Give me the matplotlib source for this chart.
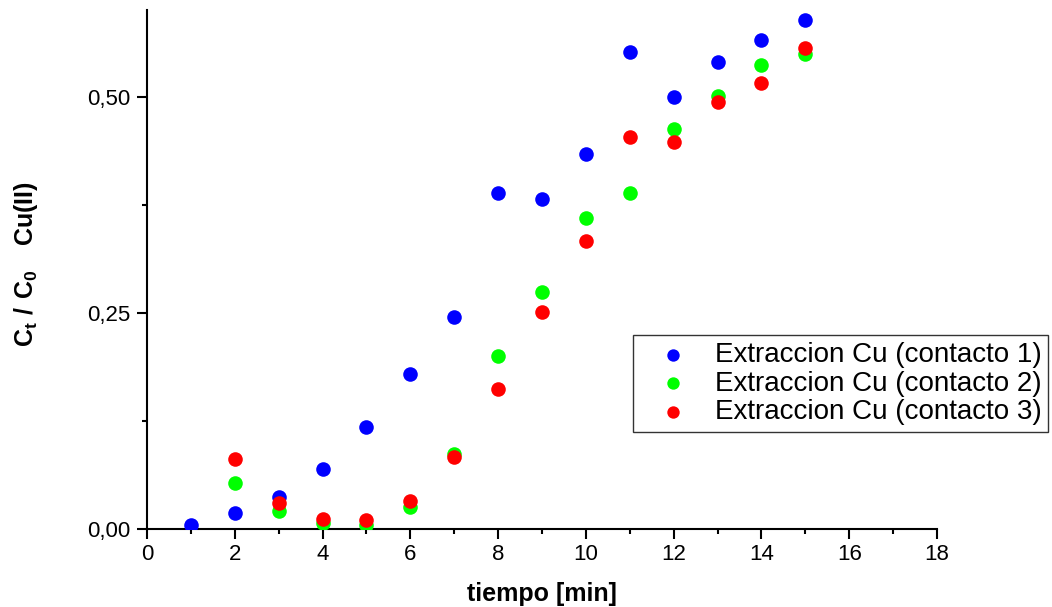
import matplotlib.pyplot as plt
import numpy as np
from matplotlib.ticker import MultipleLocator, FuncFormatter

plt.rcParams['font.family'] = ['Liberation Sans', 'DejaVu Sans']
plt.rcParams['mathtext.fontset'] = 'custom'
plt.rcParams['mathtext.rm'] = 'Liberation Sans'
plt.rcParams['mathtext.bf'] = 'Liberation Sans:bold'

# data
t1 = [1, 2, 3, 4, 5, 6, 7, 8, 9, 10, 11, 12, 13, 14, 15]
c1 = [0.005, 0.018, 0.037, 0.069, 0.118, 0.179, 0.245, 0.388, 0.382,
      0.434, 0.551, 0.500, 0.540, 0.565, 0.589]

t2 = [2, 3, 4, 5, 6, 7, 8, 9, 10, 11, 12, 13, 14, 15]
c2 = [0.053, 0.021, 0.007, 0.005, 0.026, 0.087, 0.200, 0.274, 0.359,
      0.388, 0.463, 0.501, 0.537, 0.549]

t3 = [2, 3, 4, 5, 6, 7, 8, 9, 10, 11, 12, 13, 14, 15]
c3 = [0.081, 0.030, 0.011, 0.010, 0.032, 0.083, 0.162, 0.251, 0.333,
      0.453, 0.447, 0.494, 0.516, 0.556]

labels = ["Extraccion Cu (contacto 1)", "Extraccion Cu (contacto 2)",
          "Extraccion Cu (contacto 3)"]

fig = plt.figure(figsize=(10.52, 6.07), dpi=100)
ax = fig.add_axes([0.1397, 0.1285, 0.751, 0.855])

ax.scatter(t1, c1, s=110, color='#0000ff', label=labels[0], zorder=3, linewidths=0)
ax.scatter(t2, c2, s=110, color='#00ff00', label=labels[1], zorder=3, linewidths=0)
ax.scatter(t3, c3, s=110, color='#ff0000', label=labels[2], zorder=3, linewidths=0)

ax.set_xlim(0, 18)
ax.set_ylim(0, 0.60)
ax.spines['top'].set_visible(False)
ax.spines['right'].set_visible(False)
ax.spines['left'].set_linewidth(1.5)
ax.spines['bottom'].set_linewidth(1.5)

ax.xaxis.set_major_locator(MultipleLocator(2))
ax.xaxis.set_minor_locator(MultipleLocator(1))
ax.yaxis.set_major_locator(MultipleLocator(0.25))
ax.yaxis.set_minor_locator(MultipleLocator(0.125))
ax.yaxis.set_major_formatter(FuncFormatter(lambda v, p: f"{v:.2f}".replace('.', ',')))
ax.tick_params(which='major', direction='out', length=7, width=1.5)
ax.tick_params(which='minor', direction='out', length=3.5, width=1.5)
ax.tick_params(axis='x', labelsize=16, pad=4)
ax.tick_params(axis='y', labelsize=16, pad=5)

ax.set_xlabel("tiempo [min]", fontsize=18, fontweight='bold')
ax.xaxis.set_label_coords(0.5, -0.102)
ax.set_ylabel(r"$\mathbf{C_t\ /\ C_0\ \ \ Cu(II)}$", fontsize=18)
ax.yaxis.set_label_coords(-0.135, 0.51)

leg = ax.legend(loc='upper left', bbox_to_anchor=(0.615, 0.374), fontsize=20,
                frameon=True, fancybox=False, edgecolor='black', borderpad=0.25,
                handlelength=2.4, handletextpad=0.3, labelspacing=0.1,
                markerscale=0.85, borderaxespad=0)
leg.get_frame().set_linewidth(1.0)

fig.savefig("out.png", dpi=100)
